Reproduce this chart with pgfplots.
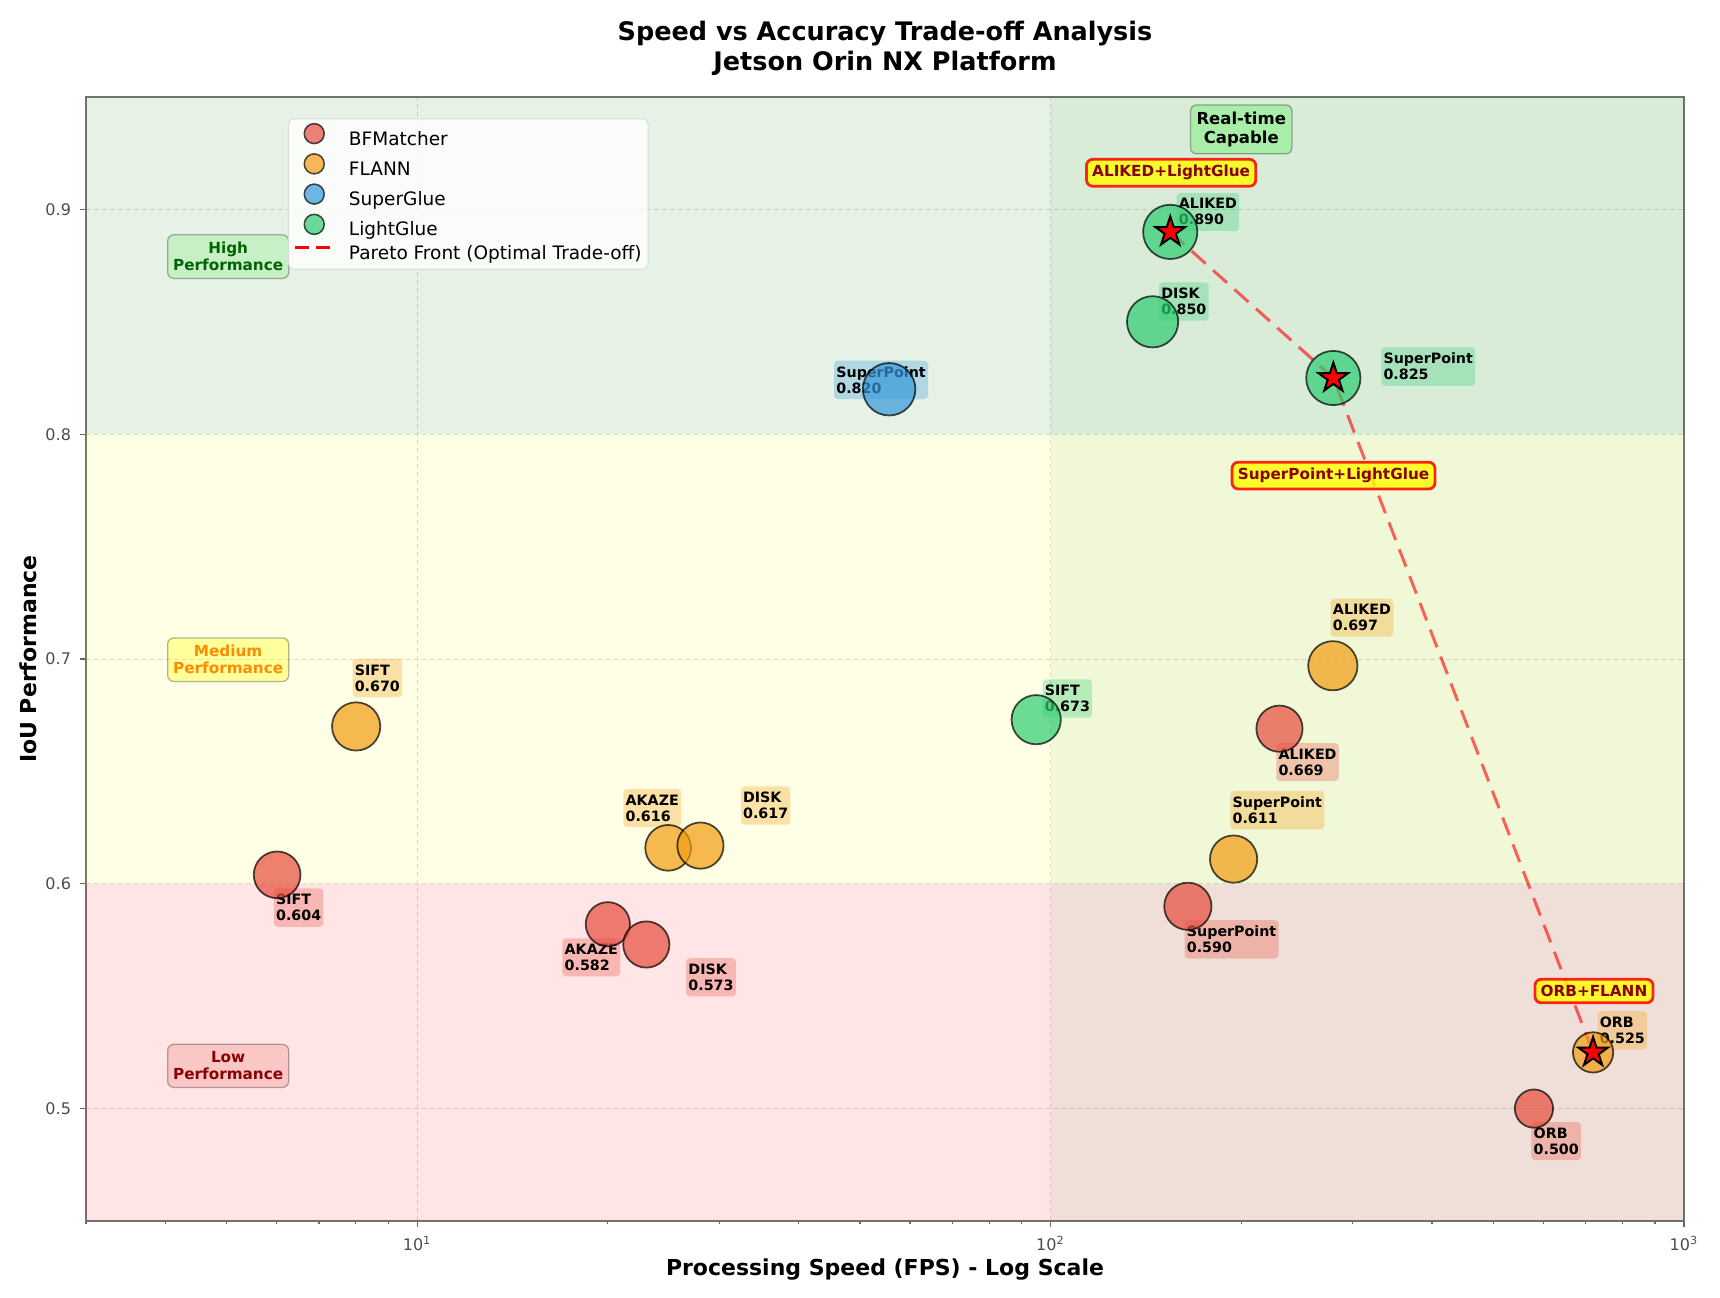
\documentclass[border=0pt]{standalone}
\usepackage{fontspec}
\setmainfont{DejaVu Sans}
\usepackage{pgfplots}
\pgfplotsset{compat=1.18}

\definecolor{bfc}{HTML}{E74C3C}
\definecolor{flc}{HTML}{F39C12}
\definecolor{sgc}{HTML}{3498DB}
\definecolor{lgc}{HTML}{2ECC71}
\definecolor{mplgreen}{HTML}{008000}
\definecolor{mplred}{HTML}{FF0000}
\definecolor{mplyellow}{HTML}{FFFF00}
\definecolor{lightgreen}{HTML}{90EE90}
\definecolor{lightcoral}{HTML}{F08080}
\definecolor{darkgreen}{HTML}{006400}
\definecolor{darkorange}{HTML}{FF8C00}
\definecolor{darkred}{HTML}{8B0000}

\pgfdeclareplotmark{fstar}{%
  \pgfpathmoveto{\pgfpointpolar{90}{\pgfplotmarksize}}%
  \pgfpathlineto{\pgfpointpolar{126}{0.382\pgfplotmarksize}}%
  \pgfpathlineto{\pgfpointpolar{162}{\pgfplotmarksize}}%
  \pgfpathlineto{\pgfpointpolar{198}{0.382\pgfplotmarksize}}%
  \pgfpathlineto{\pgfpointpolar{234}{\pgfplotmarksize}}%
  \pgfpathlineto{\pgfpointpolar{270}{0.382\pgfplotmarksize}}%
  \pgfpathlineto{\pgfpointpolar{306}{\pgfplotmarksize}}%
  \pgfpathlineto{\pgfpointpolar{342}{0.382\pgfplotmarksize}}%
  \pgfpathlineto{\pgfpointpolar{18}{\pgfplotmarksize}}%
  \pgfpathlineto{\pgfpointpolar{54}{0.382\pgfplotmarksize}}%
  \pgfpathclose
  \pgfusepathqfillstroke
}

\pgfplotsset{
  bubble/.style={scatter, only marks, mark=*, point meta=y, forget plot,
    visualization depends on={\thisrow{r} \as \rad},
    scatter/@pre marker code/.code={\scope[mark size=\rad, draw=black, draw opacity=0.7, fill=#1, fill opacity=0.7, line width=0.7pt]},
    scatter/@post marker code/.code={\endscope}},
}
\tikzset{
  lab/.style={font=\bfseries\fontsize{5.7}{6.4}\selectfont, align=left, inner xsep=0.9pt, inner ysep=2.3pt,
    rounded corners=1.5pt, fill opacity=0.3, text opacity=1, draw=none, anchor=center},
  zone/.style={font=\bfseries\fontsize{6.1}{6.9}\selectfont, align=center, inner xsep=2.2pt, inner ysep=2.9pt,
    rounded corners=2.5pt, draw=black, draw opacity=0.3, line width=0.5pt, text opacity=1},
  pareto/.style={font=\bfseries\fontsize{6.1}{7}\selectfont, text=darkred, inner xsep=2.3pt, inner ysep=2.4pt,
    rounded corners=2.5pt, draw=red, line width=1.1pt, fill=mplyellow, fill opacity=0.8, text opacity=1, draw opacity=0.85},
}

\begin{document}
\begin{tikzpicture}
\useasboundingbox (-34.4pt,-30.8pt) rectangle (653.6pt,488.4pt);
\begin{axis}[
  name=ax, at={(0pt,0pt)}, anchor=south west,
  scale only axis, width=639.2pt, height=449.6pt,
  xmode=log, log basis x=10,
  xmin=3, xmax=1000, ymin=0.45, ymax=0.95,
  xtick={10,100,1000},
  xticklabels={10\textsuperscript{1},10\textsuperscript{2},10\textsuperscript{3}},
  minor xtick={3,4,5,6,7,8,9,20,30,40,50,60,70,80,90,200,300,400,500,600,700,800,900},
  ytick={0.5,0.6,0.7,0.8,0.9},
  yticklabel style={/pgf/number format/fixed, /pgf/number format/precision=1,
    /pgf/number format/assume math mode=true},
  tick label style={font=\fontsize{6.4}{7.7}\selectfont, text=black!70},
  tick align=outside, xtick pos=bottom, ytick pos=left,
  major tick length=2.5pt, minor tick length=1.4pt,
  tick style={black!60, line width=0.5pt},
  grid=major,
  major grid style={dash pattern=on 2pt off 1.2pt, black!14, line width=0.4pt},
  axis line style={black!55, line width=0.8pt},
  clip=false,
  legend cell align=left,
  legend style={at={(0.1264,0.981)}, anchor=north west,
    font=\fontsize{7.4}{8.9}\selectfont, fill=white, fill opacity=0.8, text opacity=1, draw opacity=1,
    draw=black!15, rounded corners=2pt, inner xsep=2.1pt, inner ysep=1.6pt,
    row sep=0.95pt, column sep=5.2pt,
    nodes={inner sep=0.5pt, text height=5.8pt, text depth=1.7pt}},
]
% background regions
\addplot[forget plot, draw=none, fill=mplred, fill opacity=0.1] coordinates {(3,0.45) (1000,0.45) (1000,0.6) (3,0.6)};
\addplot[forget plot, draw=none, fill=mplyellow, fill opacity=0.1] coordinates {(3,0.6) (1000,0.6) (1000,0.8) (3,0.8)};
\addplot[forget plot, draw=none, fill=mplgreen, fill opacity=0.1] coordinates {(3,0.8) (1000,0.8) (1000,0.95) (3,0.95)};
\addplot[forget plot, draw=none, fill=mplgreen, fill opacity=0.06] coordinates {(100,0.45) (1000,0.45) (1000,0.95) (100,0.95)};

% BFMatcher
\addplot[bubble=bfc] table[x=x,y=y] {
x y r
6.01 0.604 9.35
20.0 0.582 8.85
23.0 0.573 9.25
164.7 0.590 9.45
229.8 0.669 9.25
579.6 0.500 7.65
};
% FLANN
\addplot[bubble=flc] table[x=x,y=y] {
x y r
8.01 0.670 9.65
24.9 0.616 9.15
28.0 0.617 9.25
194.5 0.611 9.45
279.0 0.697 9.85
718.6 0.525 8.05
};
% SuperGlue
\addplot[bubble=sgc] table[x=x,y=y] {
x y r
55.6 0.820 10.5
};
% LightGlue
\addplot[bubble=lgc] table[x=x,y=y] {
x y r
154.5 0.890 10.85
144.9 0.850 10.25
279.5 0.825 10.85
94.9 0.673 9.85
};

% Pareto front
\addplot[forget plot, red, draw opacity=0.6, line width=1.2pt, dash pattern=on 7.5pt off 4pt] coordinates {(154.5,0.890) (279.5,0.825) (718.6,0.525)};
\addplot[forget plot, only marks, mark=fstar, mark size=6.2pt, mark options={fill=red, draw=black, line width=0.8pt}] coordinates {(154.5,0.890) (279.5,0.825) (718.6,0.525)};

% legend
\addlegendimage{legend image code/.code={\draw[draw=black, draw opacity=0.7, fill=bfc, fill opacity=0.7, line width=0.6pt] (7.6pt,2.6pt) circle (4pt);}}
\addlegendentry{BFMatcher}
\addlegendimage{legend image code/.code={\draw[draw=black, draw opacity=0.7, fill=flc, fill opacity=0.7, line width=0.6pt] (7.6pt,2.6pt) circle (4pt);}}
\addlegendentry{FLANN}
\addlegendimage{legend image code/.code={\draw[draw=black, draw opacity=0.7, fill=sgc, fill opacity=0.7, line width=0.6pt] (7.6pt,2.6pt) circle (4pt);}}
\addlegendentry{SuperGlue}
\addlegendimage{legend image code/.code={\draw[draw=black, draw opacity=0.7, fill=lgc, fill opacity=0.7, line width=0.6pt] (7.6pt,2.6pt) circle (4pt);}}
\addlegendentry{LightGlue}
\addlegendimage{legend image code/.code={\draw[red, line width=1.2pt, dash pattern=on 5.5pt off 3pt] (0pt,2.6pt) -- (15.2pt,2.6pt);}}
\addlegendentry{Pareto Front (Optimal Trade-off)}

% point labels
\node[lab, fill=bfc] at (axis cs:6.50,0.5894) {SIFT\\0.604};
\node[lab, fill=bfc] at (axis cs:18.83,0.5673) {AKAZE\\0.582};
\node[lab, fill=bfc] at (axis cs:29.10,0.5584) {DISK\\0.573};
\node[lab, fill=bfc] at (axis cs:193.1,0.5753) {SuperPoint\\0.590};
\node[lab, fill=bfc] at (axis cs:254.5,0.6541) {ALIKED\\0.669};
\node[lab, fill=bfc] at (axis cs:628.4,0.4856) {ORB\\0.500};
\node[lab, fill=flc] at (axis cs:8.65,0.6916) {SIFT\\0.670};
\node[lab, fill=flc] at (axis cs:23.50,0.6337) {AKAZE\\0.616};
\node[lab, fill=flc] at (axis cs:35.49,0.6348) {DISK\\0.617};
\node[lab, fill=flc] at (axis cs:228.0,0.6328) {SuperPoint\\0.611};
\node[lab, fill=flc] at (axis cs:310.2,0.7184) {ALIKED\\0.697};
\node[lab, fill=flc] at (axis cs:799.3,0.5348) {ORB\\0.525};
\node[lab, fill=sgc] at (axis cs:54.0,0.8242) {SuperPoint\\0.820};
\node[lab, fill=lgc] at (axis cs:177.2,0.8989) {ALIKED\\0.890};
\node[lab, fill=lgc] at (axis cs:162.3,0.8590) {DISK\\0.850};
\node[lab, fill=lgc] at (axis cs:394.7,0.8301) {SuperPoint\\0.825};
\node[lab, fill=lgc] at (axis cs:106.3,0.6824) {SIFT\\0.673};

% zone labels
\node[zone, fill=lightgreen, fill opacity=0.35, text=darkgreen] at (axis cs:5.03,0.879) {High\\Performance};
\node[zone, fill=mplyellow, fill opacity=0.32, text=darkorange] at (axis cs:5.03,0.6997) {Medium\\Performance};
\node[zone, fill=lightcoral, fill opacity=0.31, text=darkred] at (axis cs:5.03,0.519) {Low\\Performance};
\node[zone, font=\bfseries\fontsize{6.6}{7.8}\selectfont, inner xsep=2.4pt, inner ysep=2.7pt, fill=lightgreen, fill opacity=0.66, text=black] at (axis cs:200,0.9356) {Real-time\\Capable};

% pareto labels
\node[pareto] at (axis cs:155.0,0.9163) {ALIKED+LightGlue};
\node[pareto] at (axis cs:279.7,0.7816) {SuperPoint+LightGlue};
\node[pareto] at (axis cs:721,0.5523) {ORB+FLANN};
\end{axis}

\node[anchor=base, font=\bfseries\fontsize{10.2}{12}\selectfont] at ([yshift=22.5pt]ax.north) {Speed vs Accuracy Trade-off Analysis};
\node[anchor=base, font=\bfseries\fontsize{10.2}{12}\selectfont] at ([yshift=10.5pt]ax.north) {Jetson Orin NX Platform};
\node[anchor=base, font=\bfseries\fontsize{8.8}{10.5}\selectfont] at ([yshift=-22pt]ax.south) {Processing Speed (FPS) - Log Scale};
\node[rotate=90, anchor=base, font=\bfseries\fontsize{8.8}{10.5}\selectfont] at ([xshift=-19.6pt]ax.west) {IoU Performance};
\end{tikzpicture}
\end{document}
